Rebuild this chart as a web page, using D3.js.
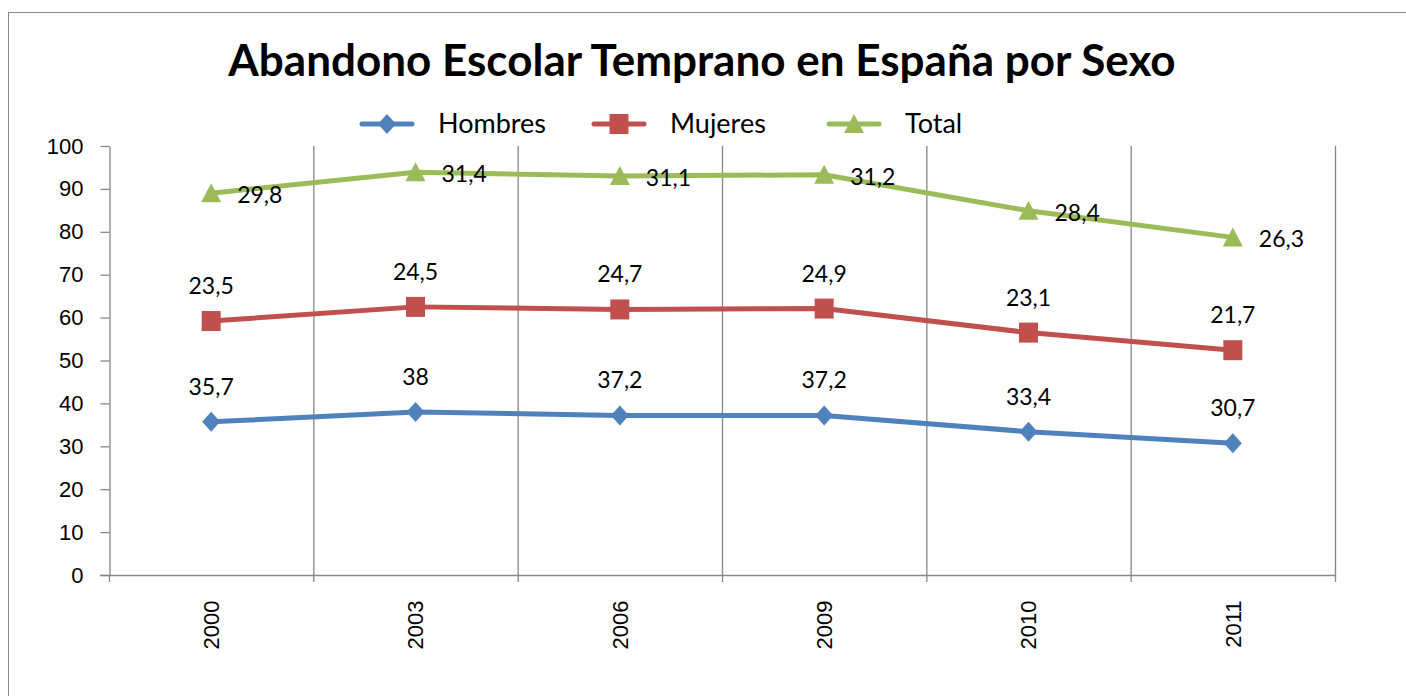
<!DOCTYPE html>
<html><head><meta charset="utf-8">
<script src="https://cdn.jsdelivr.net/npm/d3@7"></script>
<style>body{margin:0;background:#fff}svg{display:block}</style>
</head><body>
<svg id="c" width="1406" height="696"></svg>
<script>
const years = ["2000","2003","2006","2009","2010","2011"];
const hombres = [35.7, 38, 37.2, 37.2, 33.4, 30.7];
const mujeres = [23.5, 24.5, 24.7, 24.9, 23.1, 21.7];
const total = [29.8, 31.4, 31.1, 31.2, 28.4, 26.3];
const seriesNames = ["Hombres","Mujeres","Total"];
const yTicks = [0,10,20,30,40,50,60,70,80,90,100];
const colors = ["#4F81BD","#C0504D","#9BBB59"];

const rows = years.map((y,i)=>({year:y, Hombres:hombres[i], Mujeres:mujeres[i], Total:total[i]}));
const stacked = d3.stack().keys(seriesNames)(rows);

const svg = d3.select("#c");
svg.append("rect").attr("x",8.5).attr("y",12.5).attr("width",1420).attr("height",700)
  .attr("fill","#fff").attr("stroke","#888").attr("stroke-width",1);

const L=109, R=1335, T=146, B=575;
const x = d3.scaleBand().domain(years).range([L,R]);
const y = d3.scaleLinear().domain([0,100]).range([B,T]);

const bounds = years.map(d=>x(d)).concat([R]);
svg.append("g").selectAll("line").data(bounds.slice(1)).join("line")
  .attr("x1",d=>d+0.5).attr("x2",d=>d+0.5).attr("y1",T).attr("y2",B+7)
  .attr("stroke","#868686").attr("stroke-width",1.3);

const ya = svg.append("g").attr("transform",`translate(${L+0.5},0)`)
  .call(d3.axisLeft(y).tickValues(yTicks).tickSize(9).tickSizeOuter(0).tickPadding(17));
ya.attr("font-size",null).attr("font-family",null);
ya.select(".domain").attr("stroke","#868686").attr("stroke-width",1.3);
ya.selectAll(".tick line").attr("stroke","#868686").attr("stroke-width",1.3);
ya.selectAll("text").style("font-family","Liberation Sans, Arial, sans-serif").style("font-size","22px").attr("fill","#000");

const xa = svg.append("g").attr("transform",`translate(0,${B+0.5})`)
  .call(d3.axisBottom(x).tickSize(0).tickSizeOuter(0));
xa.attr("font-size",null).attr("font-family",null);
xa.select(".domain").attr("stroke","#868686").attr("stroke-width",1.3).attr("d",`M${L-9},0H${R}`);
xa.selectAll(".tick text").style("font-family","Liberation Sans, Arial, sans-serif").style("font-size","22px").attr("fill","#000")
  .attr("transform","rotate(-90)").attr("text-anchor","end").attr("dy","0.35em").attr("x",-25).attr("y",0);
svg.append("line").attr("x1",L+0.5).attr("x2",L+0.5).attr("y1",B).attr("y2",B+7).attr("stroke","#868686").attr("stroke-width",1.3);

const cx = d=>x(d.data.year)+x.bandwidth()/2;
const line = d3.line().x(cx).y(d=>y(d[1]));

const markerPaths = [
  "M0,-10L9,0L0,10L-9,0Z",
  "M-9.5,-10H9.5V10H-9.5Z",
  "M0,-10L10,9H-10Z"
];
const raw = [hombres, mujeres, total];

stacked.forEach((s,k)=>{
  const g = svg.append("g");
  g.append("path").datum(s).attr("d",line).attr("fill","none").attr("stroke",colors[k]).attr("stroke-width",5).attr("stroke-linejoin","round");
  g.selectAll("path.m").data(s).join("path").attr("class","m")
    .attr("transform",d=>`translate(${cx(d)},${y(d[1])})`)
    .attr("d",markerPaths[k]).attr("fill",colors[k]);
  g.selectAll("text").data(s).join("text")
    .attr("x",d=> k===2 ? cx(d)+26 : cx(d))
    .attr("y",d=> k===2 ? y(d[1])+10 : y(d[1])-27)
    .attr("text-anchor", k===2 ? "start" : "middle")
    .attr("font-family","Lato, Calibri, sans-serif").attr("font-size",23).attr("fill","#000")
    .text((d,i)=>String(raw[k][i]).replace(".",","));
});

svg.append("text").attr("x",702).attr("y",76).attr("text-anchor","middle")
  .attr("font-family","Lato, Calibri, sans-serif").attr("font-weight","bold").attr("font-size",44)
  .attr("fill","#000").text("Abandono Escolar Temprano en España por Sexo");

const legX = [362, 594, 829];
const leg = svg.append("g");
seriesNames.forEach((n,k)=>{
  const gx = legX[k];
  leg.append("line").attr("x1",gx).attr("x2",gx+50).attr("y1",124).attr("y2",124).attr("stroke",colors[k]).attr("stroke-width",5).attr("stroke-linecap","round");
  leg.append("path").attr("transform",`translate(${gx+25},124)`).attr("d",markerPaths[k]).attr("fill",colors[k]);
  leg.append("text").attr("x",gx+76).attr("y",124).attr("dy","0.35em").attr("font-family","Lato, Calibri, sans-serif").attr("font-size",27).attr("fill","#000").text(n);
});
</script>
</body></html>
